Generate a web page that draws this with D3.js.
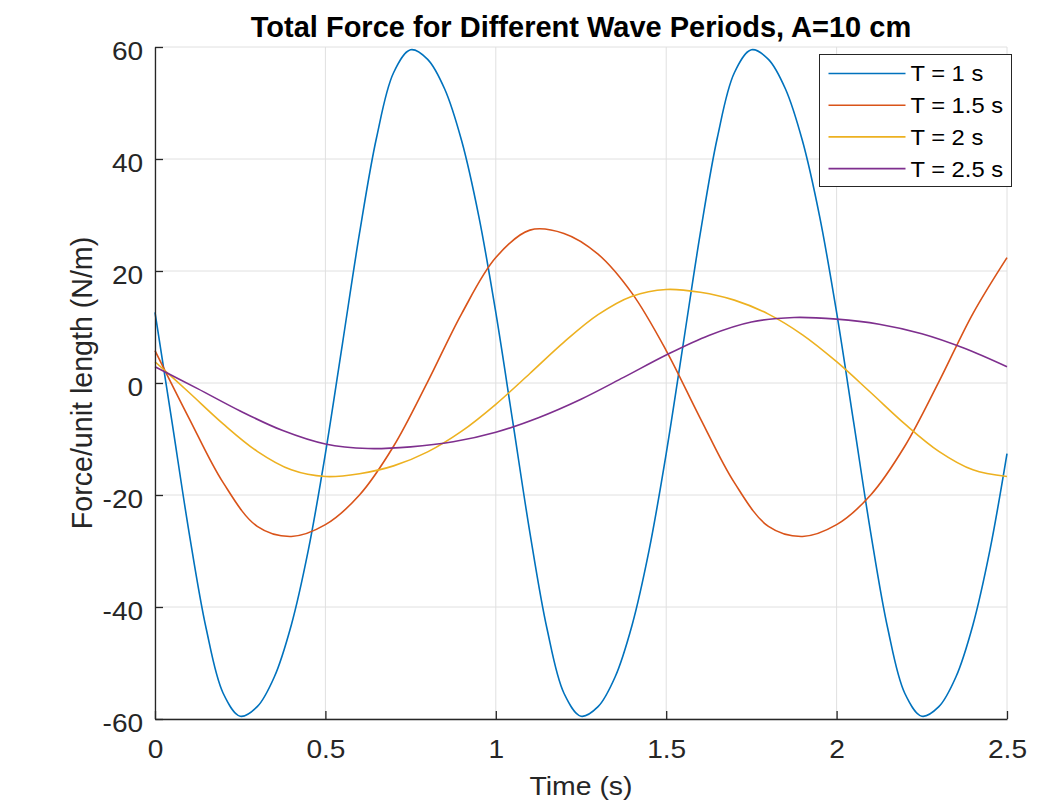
<!DOCTYPE html>
<html>
<head>
<meta charset="utf-8">
<script src="https://cdn.jsdelivr.net/npm/d3@7"></script>
<style>
  body { margin: 0; background: #fff; }
  text { font-family: Arial, "Liberation Sans", Helvetica, sans-serif; }
</style>
</head>
<body>
<div id="chart"></div>
<script>
// sample times (s) for each curve
const tT1 = [0, 0.05, 0.1, 0.15, 0.2, 0.25, 0.3, 0.35, 0.4, 0.45, 0.5, 0.55, 0.6, 0.65, 0.7, 0.75, 0.8, 0.85, 0.9, 0.95,
  1, 1.05, 1.1, 1.15, 1.2, 1.25, 1.3, 1.35, 1.4, 1.45, 1.5, 1.55, 1.6, 1.65, 1.7, 1.75, 1.8, 1.85, 1.9, 1.95,
  2, 2.05, 2.1, 2.15, 2.2, 2.25, 2.3, 2.35, 2.4, 2.45, 2.5];
const tT15 = [0, 0.1, 0.2, 0.3, 0.4, 0.5, 0.6, 0.7, 0.8, 0.9, 1, 1.1, 1.2, 1.3, 1.4, 1.5, 1.6, 1.7, 1.8, 1.9, 2, 2.1, 2.2, 2.3, 2.4, 2.5];
const tT2 = [0, 0.1, 0.2, 0.3, 0.4, 0.5, 0.6, 0.7, 0.8, 0.9, 1, 1.1, 1.2, 1.3, 1.4, 1.5, 1.6, 1.7, 1.8, 1.9, 2, 2.1, 2.2, 2.3, 2.4, 2.5];
const tT25 = [0, 0.125, 0.25, 0.375, 0.5, 0.625, 0.75, 0.875, 1, 1.125, 1.25, 1.375, 1.5, 1.625, 1.75, 1.875, 2, 2.125, 2.25, 2.375, 2.5];

// force per unit length (N/m)
const fT1 = [12.6, -7.0, -26.7, -43.8, -55.4, -59.5, -57.8, -52.5, -43.2, -29.8, -12.6, 7.0, 26.7, 43.8, 55.4, 59.5, 57.8, 52.5, 43.2, 29.8,
  12.6, -7.0, -26.7, -43.8, -55.4, -59.5, -57.8, -52.5, -43.2, -29.8, -12.6, 7.0, 26.7, 43.8, 55.4, 59.5, 57.8, 52.5, 43.2, 29.8,
  12.6, -7.0, -26.7, -43.8, -55.4, -59.5, -57.8, -52.5, -43.2, -29.8, -12.6];
const fT15 = [5.8, -6.3, -17.8, -25.6, -27.4, -25.3, -20.0, -11.3, 0.2, 12.4, 22.4, 27.3, 26.7, 23.0, 16.0,
  5.8, -6.3, -17.8, -25.6, -27.4, -25.3, -20.0, -11.3, 0.2, 12.4, 22.4];
const fT2 = [3.8, -1.7, -7.3, -12.2, -15.5, -16.7, -16.2, -14.8, -12.3, -8.6, -3.8, 1.7, 7.3, 12.2, 15.5, 16.7, 16.2, 14.8, 12.3, 8.6,
  3.8, -1.7, -7.3, -12.2, -15.5, -16.7];
const fT25 = [2.9, -1.0, -5.0, -8.5, -10.9, -11.7, -11.4, -10.5, -8.8, -6.2, -2.9, 1.0, 5.0, 8.5, 10.9, 11.7, 11.4, 10.5, 8.8, 6.2, 2.9];

const seriesNames = ["T = 1 s", "T = 1.5 s", "T = 2 s", "T = 2.5 s"];
const seriesColors = ["#0072BD", "#D95319", "#EDB120", "#7E2F8E"];
const xTicks = [0, 0.5, 1, 1.5, 2, 2.5];
const yTicks = [-60, -40, -20, 0, 20, 40, 60];

const series = [
  { name: seriesNames[0], t: tT1, f: fT1 },
  { name: seriesNames[1], t: tT15, f: fT15 },
  { name: seriesNames[2], t: tT2, f: fT2 },
  { name: seriesNames[3], t: tT25, f: fT25 }
];

const width = 1038, height = 803;
const margin = { top: 47, right: 31, bottom: 84, left: 155 };
const innerW = width - margin.left - margin.right;
const innerH = height - margin.top - margin.bottom;
const stretch = "scale(1.08,1)"; // MATLAB's text renders a bit wider than Liberation Sans

const svg = d3.select("#chart")
  .append("svg")
  .attr("width", width)
  .attr("height", height);

const g = svg.append("g")
  .attr("transform", `translate(${margin.left},${margin.top})`);

const x = d3.scaleLinear().domain([0, 2.5]).range([0, innerW]);
const y = d3.scaleLinear().domain([-60, 60]).range([innerH, 0]);

// grid
g.append("g").selectAll("line")
  .data(xTicks)
  .enter().append("line")
  .attr("x1", d => x(d)).attr("x2", d => x(d))
  .attr("y1", 0).attr("y2", innerH)
  .attr("stroke", "#e0e0e0").attr("stroke-width", 1);

g.append("g").selectAll("line")
  .data(yTicks)
  .enter().append("line")
  .attr("x1", 0).attr("x2", innerW)
  .attr("y1", d => y(d)).attr("y2", d => y(d))
  .attr("stroke", "#e0e0e0").attr("stroke-width", 1);

// curves
const line = d3.line()
  .x(d => x(d[0]))
  .y(d => y(d[1]))
  .curve(d3.curveCatmullRom.alpha(0.5));

g.selectAll(".curve")
  .data(series)
  .enter().append("path")
  .attr("class", "curve")
  .attr("fill", "none")
  .attr("stroke", (d, i) => seriesColors[i])
  .attr("stroke-width", 1.6)
  .attr("d", d => line(d.t.map((t, i) => [t, d.f[i]])));

// axes, ticks pointing inward like MATLAB
const xAxis = g.append("g")
  .attr("transform", `translate(0,${innerH})`)
  .call(d3.axisBottom(x).tickValues(xTicks).tickFormat(d => String(d))
    .tickSizeInner(-8).tickSizeOuter(0).tickPadding(21));

const yAxis = g.append("g")
  .call(d3.axisLeft(y).tickValues(yTicks).tickFormat(d => String(d))
    .tickSizeInner(-8).tickSizeOuter(0).tickPadding(11));

[xAxis, yAxis].forEach(a => {
  a.select(".domain").attr("stroke", "#262626").attr("stroke-width", 1.3);
  a.selectAll(".tick line").attr("stroke", "#262626").attr("stroke-width", 1.3);
  a.selectAll(".tick text")
    .attr("fill", "#262626")
    .attr("transform", stretch)
    .style("font-size", "26px");
});
yAxis.selectAll(".tick text").attr("dy", "0.48em");

// labels
svg.append("text")
  .attr("x", margin.left + innerW / 2)
  .attr("y", 37)
  .attr("text-anchor", "middle")
  .style("font-size", "29px")
  .style("font-weight", "bold")
  .attr("fill", "#000")
  .text("Total Force for Different Wave Periods, A=10 cm");

svg.append("text")
  .attr("transform", `translate(${margin.left + innerW / 2},795) ${stretch}`)
  .attr("text-anchor", "middle")
  .style("font-size", "26.3px")
  .attr("fill", "#262626")
  .text("Time (s)");

svg.append("text")
  .attr("transform", `translate(92,${margin.top + innerH / 2}) rotate(-90)`)
  .attr("text-anchor", "middle")
  .style("font-size", "28.6px")
  .attr("fill", "#262626")
  .text("Force/unit length (N/m)");

// legend
const legend = svg.append("g").attr("transform", "translate(819.5,54.5)");

legend.append("rect")
  .attr("width", 192)
  .attr("height", 132)
  .attr("fill", "#fff")
  .attr("stroke", "#262626")
  .attr("stroke-width", 1);

const item = legend.selectAll(".item")
  .data(seriesNames)
  .enter().append("g")
  .attr("class", "item")
  .attr("transform", (d, i) => `translate(0,${19 + i * 31.7})`);

item.append("line")
  .attr("x1", 9).attr("x2", 86)
  .attr("stroke", (d, i) => seriesColors[i])
  .attr("stroke-width", 1.6);

item.append("text")
  .attr("transform", `translate(91,0) ${stretch}`)
  .attr("dy", "0.36em")
  .style("font-size", "22px")
  .attr("fill", "#000")
  .text(d => d);
</script>
</body>
</html>
